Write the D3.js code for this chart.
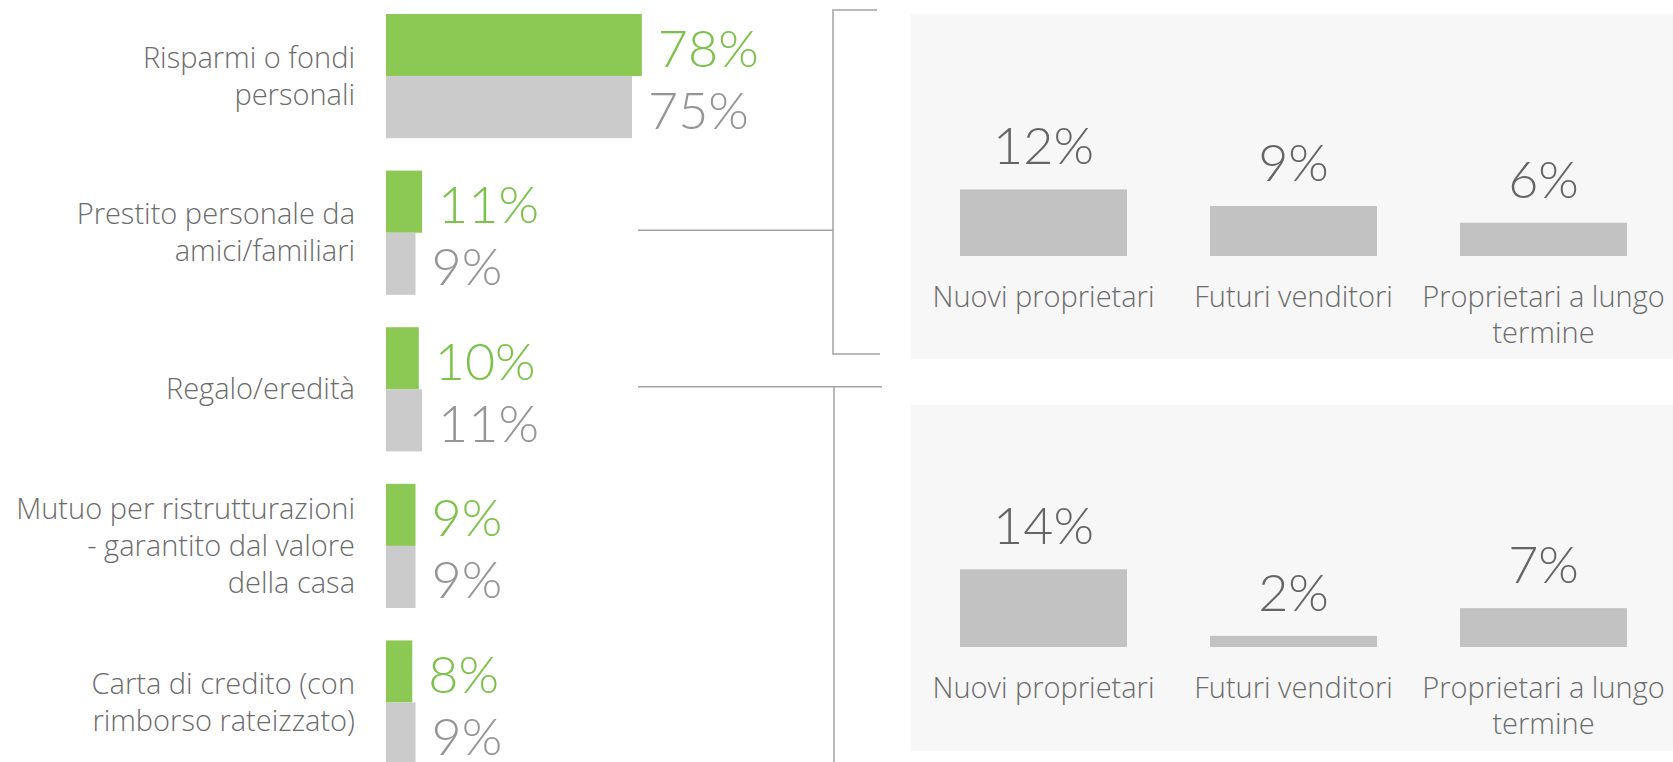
<!DOCTYPE html>
<html>
<head>
<meta charset="utf-8">
<script src="https://cdn.jsdelivr.net/npm/d3@7"></script>
<style>
  body { margin: 0; background: #fff; }
  svg { display: block; font-family: Lato, "Open Sans", sans-serif; }
  .label { fill: #6b6b6b; font-family: "Open Sans", Lato, sans-serif; font-size: 29px; font-weight: 300; }
  .value { font-size: 52px; font-weight: 300; }
  .bracket { fill: none; stroke: #a3a3a3; stroke-width: 1.5; }
</style>
</head>
<body>
<svg width="1673" height="762"></svg>
<script>
// sources of funding (left chart)
var categories = ["Risparmi o fondi personali", "Prestito personale da amici/familiari",
  "Regalo/eredità", "Mutuo per ristrutturazioni - garantito dal valore della casa",
  "Carta di credito (con rimborso rateizzato)"];
var categoryLines = [
  ["Risparmi o fondi", "personali"],
  ["Prestito personale da", "amici/familiari"],
  ["Regalo/eredità"],
  ["Mutuo per ristrutturazioni", "- garantito dal valore", "della casa"],
  ["Carta di credito (con", "rimborso rateizzato)"]
];
var greenValues = [78, 11, 10, 9, 8];
var grayValues = [75, 9, 11, 9, 9];

// breakdown panels (right)
var groups = ["Nuovi proprietari", "Futuri venditori", "Proprietari a lungo termine"];
var groupLines = [["Nuovi proprietari"], ["Futuri venditori"], ["Proprietari a lungo", "termine"]];
var panelTopValues = [12, 9, 6];     // Prestito personale da amici/familiari
var panelBottomValues = [14, 2, 7];  // Regalo/eredità

var svg = d3.select("svg");

var x = d3.scaleLinear().domain([0, 100]).range([386, 714]);
var y = d3.scaleBand().domain(categories).range([14, 764.6]).paddingInner(0.207).paddingOuter(0);
var ySeries = d3.scaleBand().domain(["green", "gray"]).range([0, y.bandwidth()]);

var rows = svg.append("g").selectAll("g")
  .data(categories)
  .enter().append("g")
    .attr("transform", function(d) { return "translate(0," + y(d) + ")"; });

rows.append("text")
  .attr("class", "label")
  .attr("text-anchor", "end")
  .each(function(d, i) {
    var lines = categoryLines[i];
    var first = y.bandwidth() / 2 - (lines.length - 1) / 2 * 37 + 10;
    d3.select(this).selectAll("tspan")
      .data(lines)
      .enter().append("tspan")
        .attr("x", 355)
        .attr("y", function(l, j) { return first + j * 37; })
        .text(function(l) { return l; });
  });

var series = [
  {key: "green", values: greenValues, bar: "#8cc954", text: "#7cc24a"},
  {key: "gray", values: grayValues, bar: "#cbcbcb", text: "#959595"}
];

series.forEach(function(s) {
  rows.append("rect")
    .attr("x", x(0))
    .attr("y", ySeries(s.key))
    .attr("width", function(d, i) { return x(s.values[i]) - x(0); })
    .attr("height", ySeries.bandwidth())
    .attr("fill", s.bar);

  rows.append("text")
    .attr("class", "value")
    .attr("x", function(d, i) { return x(s.values[i]) + 16; })
    .attr("y", ySeries(s.key) + ySeries.bandwidth() / 2 + 21.5)
    .attr("fill", s.text)
    .text(function(d, i) { return s.values[i] + "%"; });
});

// right panels
var px = d3.scaleBand().domain(groups).range([960, 1627]).paddingInner(0.332).paddingOuter(0);
var ph = d3.scaleLinear().domain([0, 14]).range([0, 77.7]);

function drawPanel(top, height, values) {
  var g = svg.append("g").attr("transform", "translate(0," + top + ")");
  g.append("rect")
    .attr("x", 911).attr("y", 0)
    .attr("width", 1673 - 911).attr("height", height)
    .attr("fill", "#f7f7f7");

  var base = 242;
  g.selectAll(".pbar")
    .data(values)
    .enter().append("rect")
      .attr("class", "pbar")
      .attr("x", function(d, i) { return px(groups[i]); })
      .attr("y", function(d) { return base - ph(d); })
      .attr("width", px.bandwidth())
      .attr("height", function(d) { return ph(d); })
      .attr("fill", "#c2c2c2");

  g.selectAll(".pval")
    .data(values)
    .enter().append("text")
      .attr("class", "value")
      .attr("fill", "#656565")
      .attr("text-anchor", "middle")
      .attr("x", function(d, i) { return px(groups[i]) + px.bandwidth() / 2; })
      .attr("y", function(d) { return base - ph(d) - 25; })
      .text(function(d) { return d + "%"; });

  g.selectAll(".pcat")
    .data(groups)
    .enter().append("text")
      .attr("class", "label")
      .attr("text-anchor", "middle")
      .each(function(d, i) {
        var cx = px(d) + px.bandwidth() / 2;
        d3.select(this).selectAll("tspan")
          .data(groupLines[i])
          .enter().append("tspan")
            .attr("x", cx)
            .attr("y", function(l, j) { return base + 51 + j * 36; })
            .text(function(l) { return l; });
      });
}

var panel1 = {top: 14, height: 345};
var panel2 = {top: 405, height: 346};
drawPanel(panel1.top, panel1.height, panelTopValues);
drawPanel(panel2.top, panel2.height, panelBottomValues);

// brackets linking rows to panels
var yRow2 = y(categories[1]) + y.bandwidth() / 2 - 2.5;
var yRow3 = y(categories[2]) + y.bandwidth() / 2 - 2.5;

svg.append("path")
  .attr("class", "bracket")
  .attr("d", "M877," + (panel1.top - 4) + "H833V" + (panel1.top + panel1.height - 5) + "H880");
svg.append("path")
  .attr("class", "bracket")
  .attr("d", "M638," + yRow2 + "H833");
svg.append("path")
  .attr("class", "bracket")
  .attr("d", "M638," + yRow3 + "H882M834," + yRow3 + "V762");
</script>
</body>
</html>
